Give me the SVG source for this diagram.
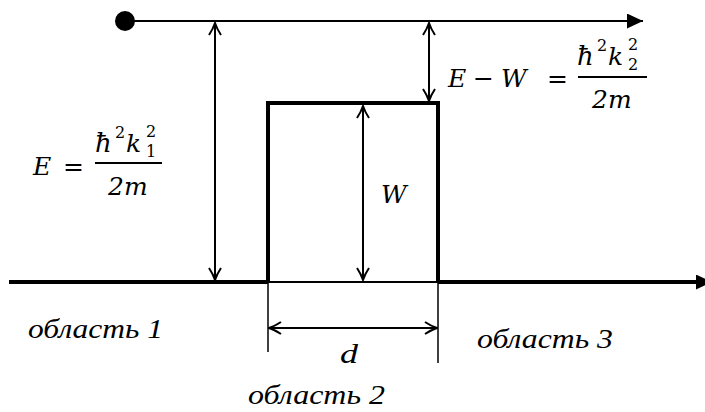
<svg xmlns="http://www.w3.org/2000/svg" width="705" height="412" viewBox="0 0 705 412">
<style>
.ln{stroke:#000;fill:none}
.m{font-family:"DejaVu Serif","Liberation Serif",serif;font-style:italic;font-size:25px;fill:#000}
.h{font-size:26px}
.s{font-family:"DejaVu Serif","Liberation Serif",serif;font-size:16px;fill:#000}
.t{font-family:"Liberation Serif",serif;font-style:italic;font-size:27px;fill:#000}
</style>
<defs>
<marker id="v" viewBox="0 0 14 14" refX="13" refY="7" markerWidth="14" markerHeight="14" markerUnits="userSpaceOnUse" orient="auto-start-reverse">
<path d="M1,1 Q7,5 13,7 Q7,9 1,13" fill="none" stroke="#000" stroke-width="2"/>
</marker>
<marker id="f" viewBox="0 0 16 15" refX="16" refY="7.5" markerWidth="16" markerHeight="15" markerUnits="userSpaceOnUse" orient="auto">
<path d="M0,0 L16,7.5 L0,15 Z" fill="#000"/>
</marker>
</defs>
<g id="energy-level">
<circle cx="125" cy="21" r="10" fill="#000"/>
<line class="ln" x1="125" y1="21" x2="643" y2="21" stroke-width="2" marker-end="url(#f)"/>
</g>
<g id="axis">
<line class="ln" x1="9" y1="282" x2="268" y2="282" stroke-width="4"/>
<line class="ln" x1="268" y1="282" x2="438" y2="282" stroke-width="2"/>
<line class="ln" x1="438" y1="282" x2="712" y2="282" stroke-width="4" marker-end="url(#f)"/>
</g>
<g id="barrier">
<path class="ln" d="M268,282 V103 H438 V282" stroke-width="4"/>
</g>
<g id="connectors">
<line class="ln" x1="215" y1="23" x2="215" y2="280" stroke-width="2" marker-start="url(#v)" marker-end="url(#v)"/>
<line class="ln" x1="429" y1="23" x2="429" y2="101" stroke-width="2" marker-start="url(#v)" marker-end="url(#v)"/>
<line class="ln" x1="363" y1="106" x2="363" y2="280" stroke-width="2" marker-start="url(#v)" marker-end="url(#v)"/>
<line class="ln" x1="268" y1="282" x2="268" y2="352" stroke-width="1.5"/>
<line class="ln" x1="438" y1="282" x2="438" y2="363" stroke-width="1.5"/>
<line class="ln" x1="269" y1="328" x2="437" y2="328" stroke-width="2" marker-start="url(#v)" marker-end="url(#v)"/>
</g>
<g id="label-E">
<text class="m" x="33" y="175">E</text>
<text class="m" x="63" y="175">=</text>
<text class="m h" x="95" y="152">ħ</text>
<text class="s" x="115" y="138">2</text>
<text class="m" x="126" y="152">k</text>
<text class="s" x="146" y="137">2</text>
<text class="s" x="146" y="157">1</text>
<line class="ln" x1="95" y1="163" x2="162" y2="163" stroke-width="2"/>
<text class="m" x="108" y="195">2m</text>
</g>
<g id="label-EW">
<text class="m" x="448" y="87">E</text>
<text class="m" x="473" y="87">−</text>
<text class="m" x="501" y="87">W</text>
<text class="m" x="547" y="87">=</text>
<text class="m h" x="577" y="65">ħ</text>
<text class="s" x="597" y="51">2</text>
<text class="m" x="608" y="65">k</text>
<text class="s" x="628" y="50">2</text>
<text class="s" x="628" y="70">2</text>
<line class="ln" x1="578" y1="77" x2="647" y2="77" stroke-width="2"/>
<text class="m" x="592" y="108">2m</text>
</g>
<g id="label-W"><text class="m" x="381" y="203">W</text></g>
<g id="label-d"><text class="t" x="340" y="363" textLength="18" lengthAdjust="spacingAndGlyphs">d</text></g>
<g id="region1"><text class="t" x="28" y="338" textLength="135" lengthAdjust="spacingAndGlyphs">область 1</text></g>
<g id="region2"><text class="t" x="248" y="404" textLength="137" lengthAdjust="spacingAndGlyphs">область 2</text></g>
<g id="region3"><text class="t" x="477" y="348" textLength="136" lengthAdjust="spacingAndGlyphs">область 3</text></g>
</svg>
